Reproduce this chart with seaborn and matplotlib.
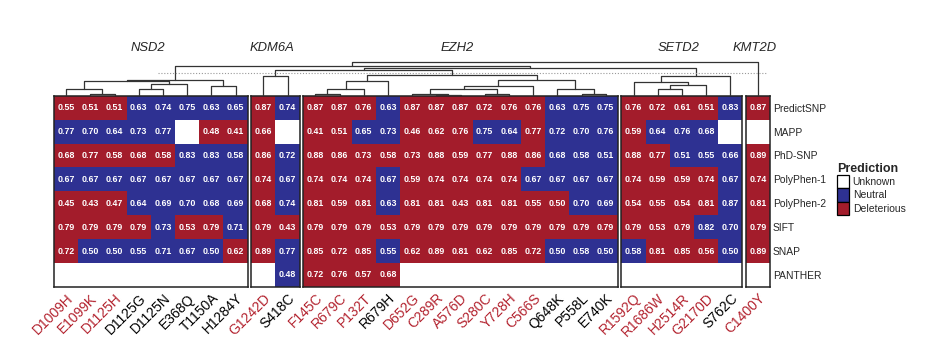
import numpy as np
import pandas as pd
import matplotlib.pyplot as plt
import seaborn as sns
from matplotlib.colors import ListedColormap
from matplotlib.patches import Patch
from matplotlib.transforms import ScaledTranslation

sns.set_style('white')
plt.rcParams['font.family'] = ['Liberation Sans', 'DejaVu Sans']

# --- data -----------------------------------------------------------------
genes = ['NSD2', 'KDM6A', 'EZH2', 'SETD2', 'KMT2D']
nsd2_muts = ['D1009H', 'E1099K', 'D1125H', 'D1125G', 'D1125N', 'E368Q', 'T1150A', 'H1284Y']
kdm6a_muts = ['G1242D', 'S418C']
ezh2_muts = ['F145C', 'R679C', 'P132T', 'R679H', 'D652G', 'C289R', 'A576D',
             'S280C', 'Y728H', 'C566S', 'Q648K', 'P558L', 'E740K']
setd2_muts = ['R1592Q', 'R1686W', 'H2514R', 'G2170D', 'S762C']
kmt2d_muts = ['C1400Y']

predictors = ['PredictSNP', 'MAPP', 'PhD-SNP', 'PolyPhen-1', 'PolyPhen-2', 'SIFT', 'SNAP', 'PANTHER']

# scores, column order = NSD2 | KDM6A | EZH2 | SETD2 | KMT2D
predictsnp = [0.55, 0.51, 0.51, 0.63, 0.74, 0.75, 0.63, 0.65,
              0.87, 0.74,
              0.87, 0.87, 0.76, 0.63, 0.87, 0.87, 0.87, 0.72, 0.76, 0.76, 0.63, 0.75, 0.75,
              0.76, 0.72, 0.61, 0.51, 0.83,
              0.87]
mapp = [0.77, 0.70, 0.64, 0.73, 0.77, None, 0.48, 0.41,
        0.66, None,
        0.41, 0.51, 0.65, 0.73, 0.46, 0.62, 0.76, 0.75, 0.64, 0.77, 0.72, 0.70, 0.76,
        0.59, 0.64, 0.76, 0.68, None,
        None]
phdsnp = [0.68, 0.77, 0.58, 0.68, 0.58, 0.83, 0.83, 0.58,
          0.86, 0.72,
          0.88, 0.86, 0.73, 0.58, 0.73, 0.88, 0.59, 0.77, 0.88, 0.86, 0.68, 0.58, 0.51,
          0.88, 0.77, 0.51, 0.55, 0.66,
          0.89]
polyphen1 = [0.67, 0.67, 0.67, 0.67, 0.67, 0.67, 0.67, 0.67,
             0.74, 0.67,
             0.74, 0.74, 0.74, 0.67, 0.59, 0.74, 0.74, 0.74, 0.74, 0.67, 0.67, 0.67, 0.67,
             0.74, 0.59, 0.59, 0.74, 0.67,
             0.74]
polyphen2 = [0.45, 0.43, 0.47, 0.64, 0.69, 0.70, 0.68, 0.69,
             0.68, 0.74,
             0.81, 0.59, 0.81, 0.63, 0.81, 0.81, 0.43, 0.81, 0.81, 0.55, 0.50, 0.70, 0.69,
             0.54, 0.55, 0.54, 0.81, 0.87,
             0.81]
sift = [0.79, 0.79, 0.79, 0.79, 0.73, 0.53, 0.79, 0.71,
        0.79, 0.43,
        0.79, 0.79, 0.79, 0.53, 0.79, 0.79, 0.79, 0.79, 0.79, 0.79, 0.79, 0.79, 0.79,
        0.79, 0.53, 0.79, 0.82, 0.70,
        0.79]
snap = [0.72, 0.50, 0.50, 0.55, 0.71, 0.67, 0.50, 0.62,
        0.89, 0.77,
        0.85, 0.72, 0.85, 0.55, 0.62, 0.89, 0.81, 0.62, 0.85, 0.72, 0.50, 0.58, 0.50,
        0.58, 0.81, 0.85, 0.56, 0.50,
        0.89]
panther = [None] * 8 + [None, 0.48] + [0.72, 0.76, 0.57, 0.68] + [None] * 9 + [None] * 5 + [None]

# calls: D = deleterious, N = neutral, - = unknown
predictsnp_call = 'DDDNNNNN' + 'DN' + 'DDDNDDDDDDNNN' + 'DDDDN' + 'D'
mapp_call = 'NNNNN-DD' + 'D-' + 'DDNNDDDNNDNNN' + 'DNNN-' + '-'
phdsnp_call = 'DDDDDNNN' + 'DN' + 'DDDDDDDDDDNNN' + 'DDNNN' + 'D'
polyphen1_call = 'NNNNNNNN' + 'DN' + 'DDDNDDDDDNNNN' + 'DDDDN' + 'D'
polyphen2_call = 'DDDNNNNN' + 'DN' + 'DDDNDDDDDDDNN' + 'DDDDN' + 'D'
sift_call = 'DDDDNDDN' + 'DD' + 'DDDDDDDDDDDDD' + 'DDDNN' + 'D'
snap_call = 'DNNNNNND' + 'DN' + 'DDDNDDDDDDNNN' + 'NDDDN' + 'D'
panther_call = '--------' + '-N' + 'DDDD---------' + '-----' + '-'

# column dendrogram: (left, right, height); m<i> = i-th merge
merges = [
    ('E1099K', 'D1125H', 1.3), ('D1009H', 'm0', 6.7), ('D1125G', 'D1125N', 6.7),
    ('m2', 'E368Q', 12), ('T1150A', 'H1284Y', 9.3), ('m1', 'm3', 14.3), ('m5', 'm4', 15.3),
    ('G1242D', 'S418C', 19.3),
    ('F145C', 'R679C', 1.3), ('m8', 'P132T', 7), ('m9', 'R679H', 14.3),
    ('C289R', 'A576D', 0.8), ('D652G', 'm11', 1.3), ('S280C', 'Y728H', 1.3),
    ('m12', 'm13', 7), ('m14', 'C566S', 9.3), ('P558L', 'E740K', 1.3),
    ('Q648K', 'm16', 7), ('m15', 'm17', 16), ('m10', 'm18', 21),
    ('R1686W', 'H2514R', 7), ('m20', 'G2170D', 11), ('R1592Q', 'm21', 13.3), ('m22', 'S762C', 19.3),
    ('m7', 'm19', 25.3), ('m24', 'm23', 27.5), ('m6', 'm25', 30), ('m26', 'C1400Y', 33.3),
]
cut_height = 22.7

# --- tables ---------------------------------------------------------------
blocks = [nsd2_muts, kdm6a_muts, ezh2_muts, setd2_muts, kmt2d_muts]
all_muts = sum(blocks, [])
scores = pd.DataFrame([predictsnp, mapp, phdsnp, polyphen1, polyphen2, sift, snap, panther],
                      index=predictors, columns=all_muts, dtype=float)
calls = [predictsnp_call, mapp_call, phdsnp_call, polyphen1_call,
         polyphen2_call, sift_call, snap_call, panther_call]
code = {'-': 0, 'N': 1, 'D': 2}
cat = pd.DataFrame([[code[c] for c in row] for row in calls], index=predictors, columns=all_muts)
annot = scores.apply(lambda s: s.map(lambda v: '' if pd.isna(v) else f'{v:.2f}'))

red = '#A31C2B'
blue = '#2E3192'
label_red = '#B3232F'
cmap = ListedColormap(['white', blue, red])

# --- layout (pixels) ------------------------------------------------------
W, H = 936, 362
x0, cw, gap = 54, 24.2, 3.6
top, rh = 95.7, 23.9
hm_h = len(predictors) * rh

fig = plt.figure(figsize=(W / 100, H / 100), dpi=100)

leaf_x = {}
start = 0
for b, (gene, muts) in enumerate(zip(genes, blocks)):
    n = len(muts)
    left = x0 + start * cw + b * gap
    for i, m in enumerate(muts):
        leaf_x[m] = left + (i + 0.5) * cw
    ax = fig.add_axes([left / W, 1 - (top + hm_h) / H, n * cw / W, hm_h / H])
    sns.heatmap(cat[muts], ax=ax, cmap=cmap, vmin=-0.5, vmax=2.5, cbar=False,
                annot=annot[muts].values, fmt='',
                annot_kws=dict(size=6.4, weight='bold', color='white'))
    for s in ax.spines.values():
        s.set_visible(True)
        s.set_color('#222222')
        s.set_linewidth(1.1)
    ax.set_xlabel('')
    ax.set_ylabel('')
    ax.set_xticks(np.arange(n) + 0.5)
    ax.set_xticklabels(muts, rotation=45, ha='right', rotation_mode='anchor', fontsize=10)
    shift = ScaledTranslation(4 / 72, 0, fig.dpi_scale_trans)
    for lab, m in zip(ax.get_xticklabels(), muts):
        lab.set_color(label_red if cat.loc['PredictSNP', m] == 2 else 'black')
        lab.set_transform(lab.get_transform() + shift)
    ax.tick_params(axis='x', length=0, pad=3)
    if b == len(blocks) - 1:
        ax.yaxis.tick_right()
        ax.set_yticks(np.arange(len(predictors)) + 0.5)
        ax.set_yticklabels(predictors, rotation=0, fontsize=7.4)
        ax.tick_params(axis='y', length=0, pad=2)
    else:
        ax.set_yticks([])
    fig.text((left + n * cw / 2 - 3) / W, 1 - 48 / H, gene, style='italic',
             fontsize=9.4, ha='center', va='center')
    start += n

# --- dendrogram -----------------------------------------------------------
dax = fig.add_axes([0, 1 - top / H, 1, 40 / H])
dax.set_xlim(0, W)
dax.set_ylim(0, 40)
dax.axis('off')
node_x = dict(leaf_x)
node_h = {m: 0 for m in leaf_x}
for i, (a, c, h) in enumerate(merges):
    xa, xc = node_x[a], node_x[c]
    dax.plot([xa, xa, xc, xc], [node_h[a], h, h, node_h[c]], color='#333333', lw=0.9)
    node_x[f'm{i}'] = (xa + xc) / 2
    node_h[f'm{i}'] = h
dax.hlines(cut_height, 158, 767, colors='#999999', linestyles=(0, (1, 1.6)), lw=0.8)

# --- legend ---------------------------------------------------------------
handles = [Patch(facecolor='white', edgecolor='black', lw=0.9, label='Unknown'),
           Patch(facecolor=blue, edgecolor='black', lw=0.9, label='Neutral'),
           Patch(facecolor=red, edgecolor='black', lw=0.9, label='Deleterious')]
fig.legend(handles=handles, title='Prediction', loc='upper left',
           bbox_to_anchor=(837 / W, 1 - 163 / H), frameon=False, fontsize=7.5,
           title_fontproperties={'weight': 'bold', 'size': 9},
           handlelength=1.15, handleheight=1.6, labelspacing=0,
           handletextpad=0.35, alignment='left', borderpad=0, borderaxespad=0)

plt.savefig('out.png', dpi=100)
